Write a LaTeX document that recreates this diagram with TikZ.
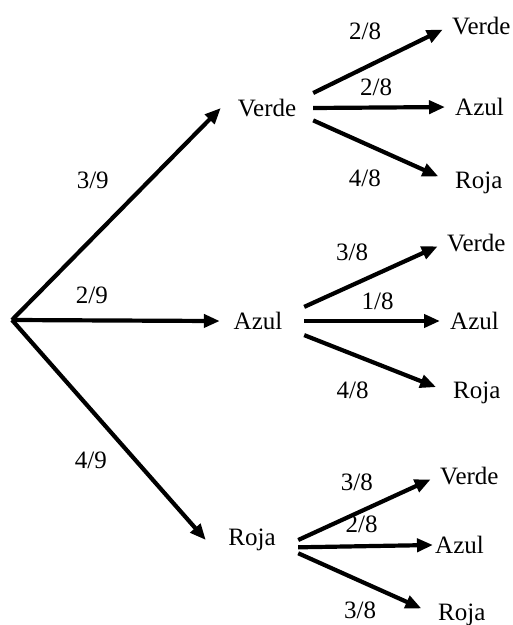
\documentclass[tikz,border=0pt]{standalone}
\usepackage{fontspec}
\setmainfont{Liberation Serif}
\usetikzlibrary{arrows.meta,positioning}
\tikzset{
    cor/.style={
        rectangle,
        inner sep=0pt,
        minimum width=92pt,
        minimum height=30pt
    },
    folha/.style={anchor=west, inner sep=2pt},
    ramo/.style={-{Triangle[length=16pt, width=13pt]}, line width=4.2pt},
    ramoFolha/.style={ramo, shorten >=8pt},
    ramoDesce/.style={ramo, shorten >=16pt},
    prob/.style={inner sep=2pt}
}

\begin{document}
\begin{tikzpicture}[
        x=1pt, y=1pt,
        every node/.style={font=\fontsize{25}{29}\selectfont}
    ]
        \useasboundingbox (0,0) rectangle (513,625);

        % primeira extraccion
        \coordinate (raiz) at (12,305);
        \node[cor] (verde) at (267,517) {Verde};
        \node[cor] (azul) at (258,304) {Azul};
        \node[cor] (roja) at (252,85) {Roja};

        % segunda extraccion
        \node[folha] (verdeV) at (450,599) {Verde};
        \node[folha] (verdeA) at (453,518) {Azul};
        \node[folha] (verdeR) at (453,442) {Roja};
        \node[folha] (azulV) at (445,382) {Verde};
        \node[folha] (azulA) at (448,304) {Azul};
        \node[folha] (azulR) at (451,232) {Roja};
        \node[folha] (rojaV) at (438,149) {Verde};
        \node[folha] (rojaA) at (433,80) {Azul};
        \node[folha] (rojaR) at (436,10) {Roja};

        \draw[ramo] (raiz) -- node[prob, pos=.66, left=37pt] {3/9} (verde.west);
        \draw[ramo, shorten >=-8pt] (raiz) -- node[prob, pos=.4, above=13pt] {2/9} (azul.west);
        \draw[ramo] (raiz) -- node[prob, pos=.64, left=25pt] {4/9} (roja.west);

        \draw[ramoFolha] (verde.18) -- node[prob, pos=.38, above=24pt] {2/8} (verdeV.west);
        \draw[ramoFolha] (verde.east) -- node[prob, pos=.45, above=8pt] {2/8} (verdeA.west);
        \draw[ramoDesce] (verde.-15) -- node[prob, pos=.37, below=22pt] {4/8} (verdeR.west);

        \draw[ramoFolha] (azul.17) -- node[prob, pos=.34, above=20pt] {3/8} (azulV.west);
        \draw[ramoFolha] (azul.east) -- node[prob, pos=.51, above=7.5pt] {1/8} (azulA.west);
        \draw[ramoDesce] (azul.-17) -- node[prob, pos=.33, below=23.5pt] {4/8} (azulR.west);

        \draw[ramoFolha] (roja.east) -- node[prob, pos=.42, above=18.5pt] {3/8} (rojaV.west);
        \draw[ramo] (roja.-9) -- node[prob, pos=.47, above=9.5pt] {2/8} (rojaA.west);
        \draw[ramoDesce] (roja.-16) -- node[prob, pos=.45, below=16.5pt] {3/8} (rojaR.west);
    \end{tikzpicture}
\end{document}
